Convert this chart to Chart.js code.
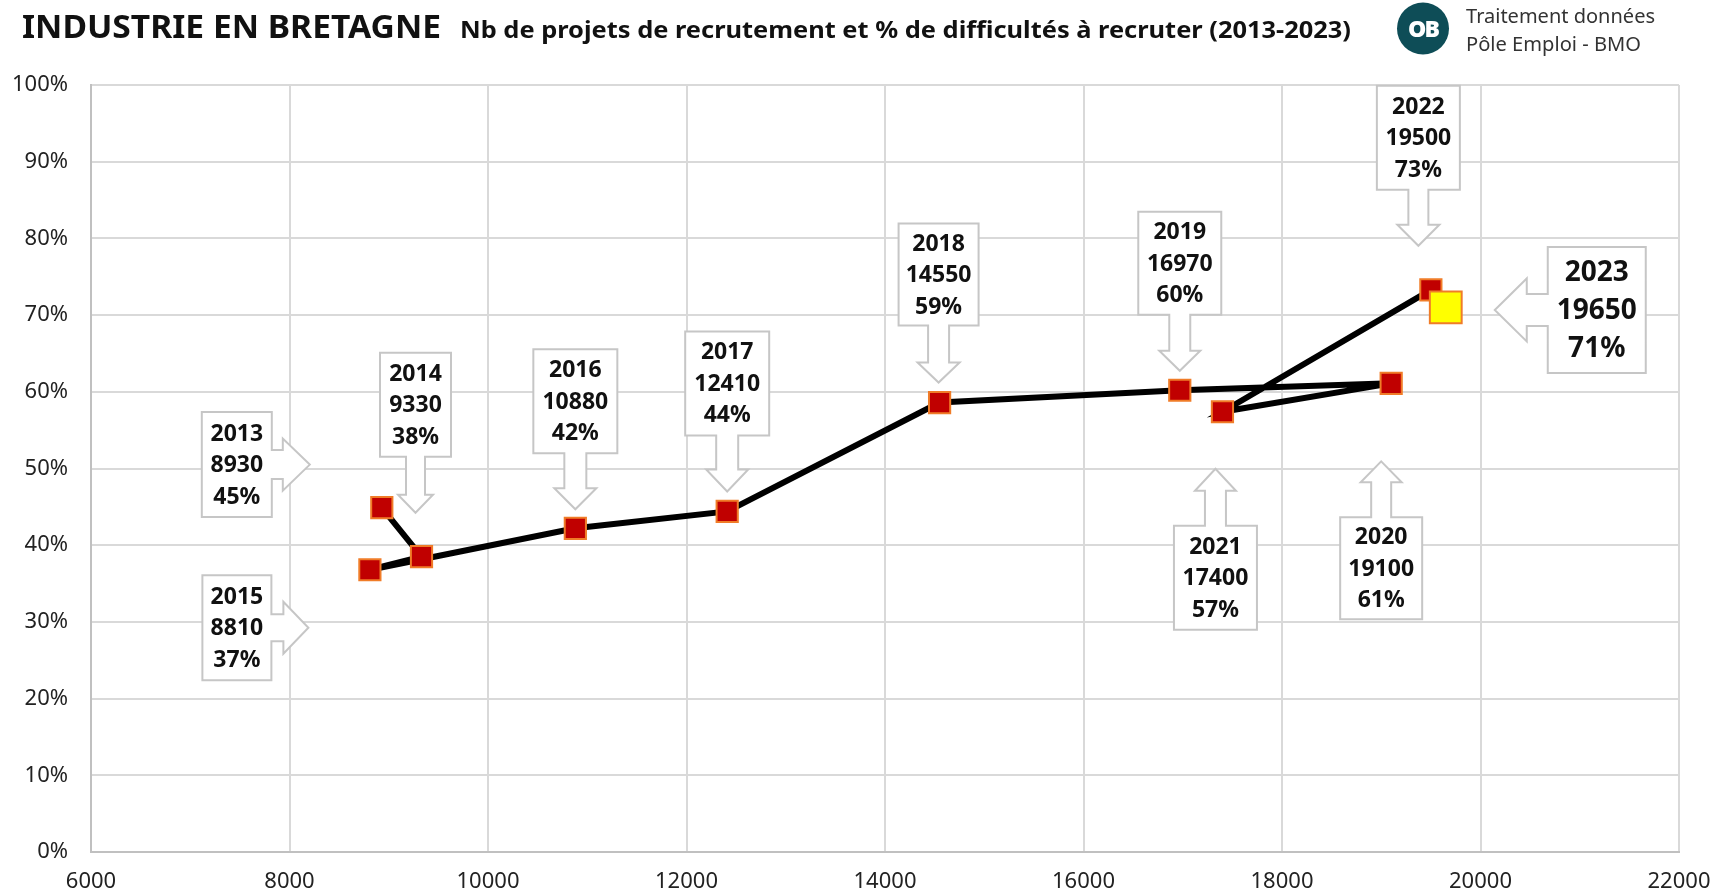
<!DOCTYPE html>
<html>
<head>
<meta charset="utf-8">
<script src="https://cdn.jsdelivr.net/npm/chart.js@4.4.1/dist/chart.umd.min.js"></script>
<style>
  body { margin: 0; background: #fff; }
  #wrap { position: relative; width: 1719px; height: 896px; }
  #head { position: absolute; left: 0; top: 0; }
</style>
</head>
<body>
<div id="wrap">
  <canvas id="chart" width="1719" height="896"></canvas>
  <svg id="head" width="1719" height="70">
    <text x="22" y="38" font-family="Noto Sans" font-weight="bold" font-size="33" fill="#111" textLength="419" lengthAdjust="spacingAndGlyphs">INDUSTRIE EN BRETAGNE</text>
    <text x="460" y="38" font-family="Noto Sans" font-weight="bold" font-size="24" fill="#111" textLength="891" lengthAdjust="spacingAndGlyphs">Nb de projets de recrutement et % de difficultés à recruter (2013-2023)</text>
    <circle cx="1423" cy="28.5" r="26" fill="#0e4d57"/>
    <text x="1423" y="37" text-anchor="middle" font-family="Noto Sans" font-weight="900" font-size="23" fill="#fff" letter-spacing="-2">OB</text>
    <text x="1466" y="23" font-family="Noto Sans" font-size="19" fill="#333" textLength="189" lengthAdjust="spacingAndGlyphs">Traitement données</text>
    <text x="1466" y="51" font-family="Noto Sans" font-size="19" fill="#333" textLength="175" lengthAdjust="spacingAndGlyphs">Pôle Emploi - BMO</text>
  </svg>
</div>
<script>
const years = ['2013', '2014', '2015', '2016', '2017', '2018', '2019', '2020', '2021', '2022'];
const projets = [8930, 9330, 8810, 10880, 12410, 14550, 16970, 19100, 17400, 19500];
const difficultes = [44.9, 38.5, 36.8, 42.2, 44.4, 58.6, 60.2, 61.1, 57.4, 73.3];
const pctLabels = [45, 38, 37, 42, 44, 59, 60, 61, 57, 73];

const lastYear = '2023';
const lastProjets = 19650;
const lastDifficulte = 71.0;
const lastPct = 71;

// placement des bulles par rapport a leur point (en px)
const bulles = [
  { dir: 'right', dx: -145, dy: -43, w: 70, h: 105, sl: 11, hl: 27, sh: 14.5, hh: 26 },
  { dir: 'down', dx: -6, dy: -152, w: 71, h: 104, sl: 38, hl: 18, sh: 9.5, hh: 17.5 },
  { dir: 'right', dx: -133, dy: 58, w: 69, h: 105, sl: 12, hl: 25, sh: 13.5, hh: 26 },
  { dir: 'down', dx: 0, dy: -127, w: 84, h: 104, sl: 35, hl: 21, sh: 11, hh: 21 },
  { dir: 'down', dx: 0, dy: -128, w: 84, h: 104, sl: 34, hl: 22, sh: 11, hh: 21 },
  { dir: 'down', dx: -1, dy: -128, w: 80, h: 102, sl: 37, hl: 20, sh: 10.5, hh: 21 },
  { dir: 'down', dx: 0, dy: -127, w: 83, h: 103, sl: 36, hl: 20, sh: 10.5, hh: 20.5 },
  { dir: 'up', dx: -10, dy: 185, w: 82, h: 102, sl: 35, hl: 21, sh: 10, hh: 20.5 },
  { dir: 'up', dx: -7, dy: 166, w: 83, h: 104, sl: 35, hl: 22, sh: 10.5, hh: 20.5 },
  { dir: 'down', dx: -12.5, dy: -152, w: 83, h: 104, sl: 35, hl: 21, sh: 10, hh: 21 }
];
const bulle2023 = { dir: 'left', dx: 151, dy: 2.5, w: 98, h: 126, sl: 21, hl: 32, sh: 16, hh: 31.5 };

function drawBulle(ctx, px, py, b, lines, size, lh) {
  const cx = px + b.dx, cy = py + b.dy;
  const vert = b.dir === 'up' || b.dir === 'down';
  const along = vert ? b.h / 2 : b.w / 2;
  const across = vert ? b.w / 2 : b.h / 2;
  const pts = [
    [-across, -along], [across, -along], [across, along],
    [b.sh, along], [b.sh, along + b.sl], [b.hh, along + b.sl],
    [0, along + b.sl + b.hl],
    [-b.hh, along + b.sl], [-b.sh, along + b.sl], [-b.sh, along],
    [-across, along]
  ];
  const map = {
    down: (p, q) => [p, q],
    up: (p, q) => [p, -q],
    right: (p, q) => [q, p],
    left: (p, q) => [-q, p]
  }[b.dir];
  ctx.save();
  ctx.beginPath();
  pts.forEach(([p, q], k) => {
    const [u, v] = map(p, q);
    if (k) ctx.lineTo(cx + u, cy + v); else ctx.moveTo(cx + u, cy + v);
  });
  ctx.closePath();
  ctx.fillStyle = '#fff';
  ctx.fill();
  ctx.strokeStyle = '#c6c6c6';
  ctx.lineWidth = 2;
  ctx.stroke();
  ctx.fillStyle = '#111';
  ctx.font = `bold ${size}px "Noto Sans"`;
  ctx.textAlign = 'center';
  ctx.textBaseline = 'middle';
  lines.forEach((t, k) => ctx.fillText(t, cx, cy + (k - 1) * lh + 1));
  ctx.restore();
}

const bullesPlugin = {
  id: 'bulles',
  beforeDatasetsDraw(chart) {
    const ctx = chart.ctx;
    const xs = chart.scales.x, ys = chart.scales.y;
    years.forEach((yr, i) => {
      drawBulle(ctx, xs.getPixelForValue(projets[i]), ys.getPixelForValue(difficultes[i]),
        bulles[i], [yr, String(projets[i]), pctLabels[i] + '%'], 23, 31.5);
    });
    drawBulle(ctx, xs.getPixelForValue(lastProjets), ys.getPixelForValue(lastDifficulte),
      bulle2023, [lastYear, String(lastProjets), lastPct + '%'], 28, 38);
  }
};

const tickFont = { family: 'Noto Sans', size: 22 };

new Chart(document.getElementById('chart'), {
  type: 'scatter',
  data: {
    datasets: [
      {
        label: lastYear,
        data: [{ x: lastProjets, y: lastDifficulte }],
        pointStyle: 'rect',
        pointRadius: 22.5,
        pointHoverRadius: 22.5,
        backgroundColor: '#ffff00',
        borderColor: '#f07c28',
        borderWidth: 2,
        order: 0
      },
      {
        label: 'Industrie',
        data: projets.map((v, i) => ({ x: v, y: difficultes[i] })),
        showLine: true,
        borderColor: '#000',
        borderWidth: 6,
        pointStyle: 'rect',
        pointRadius: 15,
        pointHoverRadius: 15,
        pointBackgroundColor: '#c00000',
        pointBorderColor: '#f07c28',
        pointBorderWidth: 2,
        order: 1
      }
    ]
  },
  options: {
    responsive: false,
    animation: false,
    layout: { padding: { top: 85, right: 40, left: 0, bottom: 0 } },
    plugins: { legend: { display: false }, tooltip: { enabled: false } },
    scales: {
      x: {
        type: 'linear',
        min: 6000,
        max: 22000,
        afterFit: (s) => { s.height = 44; s.paddingLeft = 0; s.paddingRight = 0; },
        grid: { color: '#d9d9d9', lineWidth: 2, drawTicks: false },
        border: { color: '#c0c0c0', width: 2 },
        ticks: { stepSize: 2000, color: '#222', font: tickFont, padding: 17, callback: (v) => String(v) }
      },
      y: {
        min: 0,
        max: 100,
        afterFit: (s) => { s.width = 91; s.paddingTop = 0; s.paddingBottom = 0; },
        grid: { color: '#d9d9d9', lineWidth: 2, drawTicks: false },
        border: { color: '#c0c0c0', width: 2 },
        ticks: { stepSize: 10, color: '#222', font: tickFont, padding: 23, callback: (v) => v + '%' }
      }
    }
  },
  plugins: [bullesPlugin]
});
</script>
</body>
</html>
